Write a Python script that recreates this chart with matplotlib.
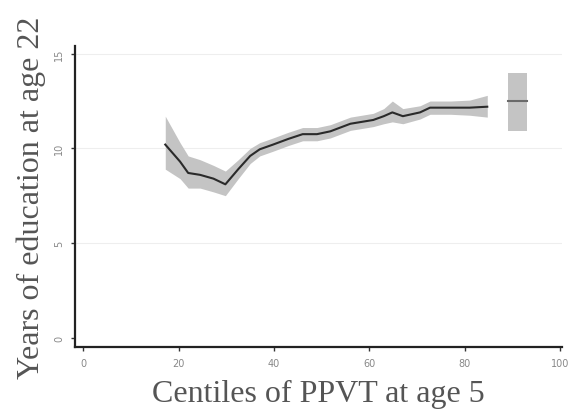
import matplotlib
matplotlib.use("Agg")
import matplotlib.pyplot as plt
import numpy as np

# local-linear fit of years of education on PPVT centile
centile = [17.2, 20.3, 22.0, 24.5, 27.3, 29.8, 32.5, 35.0, 37.0, 39.8, 43.0,
           46.0, 49.0, 51.8, 56.0, 60.8, 63.0, 64.8, 67.0, 70.6, 72.7, 77.0,
           81.0, 84.7]
years = [10.2, 9.3, 8.7, 8.6, 8.4, 8.1, 8.9, 9.6, 9.95, 10.2, 10.5,
         10.75, 10.75, 10.9, 11.3, 11.5, 11.7, 11.9, 11.7, 11.9, 12.15, 12.15,
         12.15, 12.2]
ci_low = [8.9, 8.4, 7.9, 7.9, 7.7, 7.5, 8.4, 9.2, 9.6, 9.85, 10.15,
          10.4, 10.4, 10.55, 10.95, 11.15, 11.3, 11.4, 11.3, 11.55, 11.8, 11.8,
          11.75, 11.65]
ci_high = [11.7, 10.3, 9.6, 9.4, 9.1, 8.8, 9.4, 10.0, 10.3, 10.55, 10.85,
           11.1, 11.1, 11.25, 11.65, 11.85, 12.1, 12.5, 12.1, 12.25, 12.5, 12.5,
           12.55, 12.8]

# top group shown separately
top_x = [89.1, 93.1]
top_mean = 12.5
top_low = 10.9
top_high = 14.0

fig = plt.figure(figsize=(5.69, 4.10), dpi=100)
ax = fig.add_axes([0.132, 0.151, 0.856, 0.734])

for yv in [5, 10, 15]:
    ax.axhline(yv, color="#eeeeee", lw=0.8, zorder=0)

ax.fill_between(centile, ci_low, ci_high, color="#c4c4c4", lw=0, zorder=1)
ax.plot(centile, years, color="#2a2a2a", lw=1.5, zorder=2)

ax.fill_between(top_x, [top_low] * 2, [top_high] * 2, color="#c4c4c4", lw=0, zorder=1)
ax.plot(top_x, [top_mean] * 2, color="#6a6a6a", lw=1.5, zorder=2)

ax.set_xlim(-1.7, 100.4)
ax.set_ylim(-0.5, 15.4)
ax.set_xticks([0, 20, 40, 60, 80, 100])
ax.set_yticks([0, 5, 10, 15])
ax.tick_params(axis="both", labelsize=7, length=3, width=1, colors="#333333",
               labelcolor="#888888", pad=5)
for lab in ax.get_yticklabels():
    lab.set_rotation(90)
    lab.set_va("center")

for side in ["top", "right"]:
    ax.spines[side].set_visible(False)
for side in ["left", "bottom"]:
    ax.spines[side].set_linewidth(1.6)
    ax.spines[side].set_color("#222222")

ax.set_xlabel("Centiles of PPVT at age 5", family="Liberation Serif",
              fontsize=23, color="#555555", labelpad=8)
ax.set_ylabel("Years of education at age 22", family="Liberation Serif",
              fontsize=23, color="#555555", labelpad=6)

fig.savefig("out.png", dpi=100)
